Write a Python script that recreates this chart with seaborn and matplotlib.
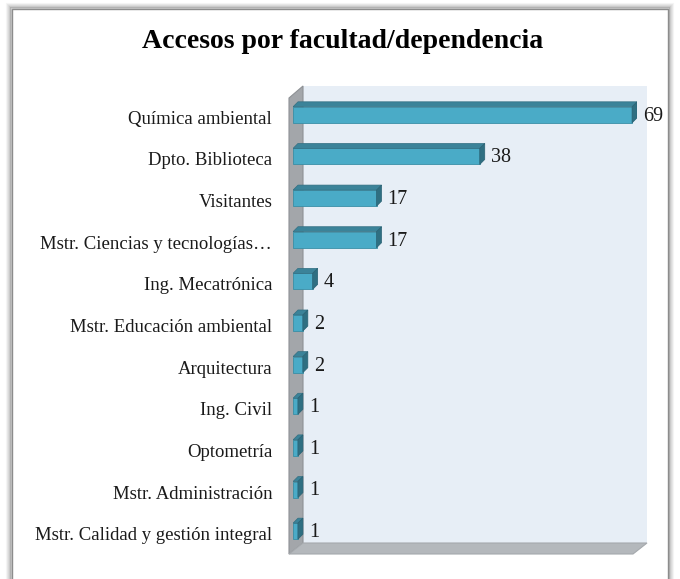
import matplotlib
matplotlib.use("Agg")
import matplotlib.pyplot as plt
import matplotlib.transforms as mtrans
import seaborn as sns
import pandas as pd
from matplotlib.patches import Polygon, Rectangle

categorias = ["Química ambiental", "Dpto. Biblioteca", "Visitantes",
              "Mstr. Ciencias y tecnologías…", "Ing. Mecatrónica",
              "Mstr. Educación ambiental", "Arquitectura", "Ing. Civil",
              "Optometría", "Mstr. Administración",
              "Mstr. Calidad y gestión integral"]
accesos = [69, 38, 17, 17, 4, 2, 2, 1, 1, 1, 1]
titulo = "Accesos por facultad/dependencia"

df = pd.DataFrame({"cat": categorias, "n": accesos})

W, H = 680, 579
sns.set_theme(style="white")
plt.rcParams["font.family"] = ["Liberation Serif", "DejaVu Serif"]

fig = plt.figure(figsize=(W / 100, H / 100), dpi=100)

def fp(x, y):
    # pixel -> figure fraction
    return (x / W, 1 - y / H)

# outer frame with soft shadow
for i, a in enumerate([0.05, 0.08, 0.12, 0.18, 0.3]):
    o = 5 - i
    x0, y0 = fp(12 - o, 9 - o)
    x1, y1 = fp(668 + o, 600)
    fig.patches.append(Rectangle((x0, y1), x1 - x0, y0 - y1, transform=fig.transFigure,
                                 facecolor="none", edgecolor=(0.3, 0.3, 0.3, a), lw=1.5))
x0, y0 = fp(12, 9)
x1, y1 = fp(668, 600)
fig.patches.append(Rectangle((x0, y1), x1 - x0, y0 - y1, transform=fig.transFigure,
                             facecolor="white", edgecolor="#8c8c8c", lw=1))

# 3d walls (pixel coords)
back = [fp(303, 86), fp(647, 86), fp(647, 543), fp(303, 543)]
side = [fp(289, 98), fp(303, 86), fp(303, 543), fp(289, 554)]
floor = [fp(289, 554), fp(633, 554), fp(647, 543), fp(303, 543)]
fig.patches.append(Polygon(back, closed=True, transform=fig.transFigure,
                           facecolor="#e7eef6", edgecolor="none"))
fig.patches.append(Polygon(side, closed=True, transform=fig.transFigure,
                           facecolor="#a3a6aa", edgecolor="#8e9195", lw=0.8))
fig.patches.append(Polygon(floor, closed=True, transform=fig.transFigure,
                           facecolor="#b4b8bc", edgecolor="#a5a9ad", lw=0.8))

ax = fig.add_axes([293 / W, 1 - 552 / H, (637 - 293) / W, (552 - 94) / H])
ax.set_zorder(5)
ax.patch.set_alpha(0)
sns.barplot(data=df, y="cat", x="n", orient="h", color="#4aabc7", width=0.385,
            saturation=1, edgecolor="#3a8ea6", linewidth=0.6, ax=ax)
ax.set_xlim(0, 70)
ax.set_ylim(len(categorias) - 0.5, -0.5)
for s in ax.spines.values():
    s.set_visible(False)
ax.set_xticks([])
ax.set_xlabel("")
ax.set_ylabel("")
ax.tick_params(axis="y", length=0, pad=15, labelsize=13.5, labelcolor="#1a1a1a")
shift = mtrans.ScaledTranslation(0, -2.5 / 100, fig.dpi_scale_trans)
for lab in ax.get_yticklabels():
    lab.set_transform(lab.get_transform() + shift)

# 3d faces of each bar
inv = ax.transData.inverted()
dx, dy = 5, 5
for p, v in zip(ax.patches, accesos):
    x, y, w, h = p.get_x(), p.get_y(), p.get_width(), p.get_height()
    X0, Ytop = ax.transData.transform((x, y))
    X1, Ybot = ax.transData.transform((x + w, y + h))
    top = [(X0, Ytop), (X1, Ytop), (X1 + dx, Ytop + dy), (X0 + dx, Ytop + dy)]
    rside = [(X1, Ytop), (X1 + dx, Ytop + dy), (X1 + dx, Ybot + dy), (X1, Ybot)]
    ax.add_patch(Polygon([inv.transform(q) for q in top], closed=True,
                         facecolor="#3b8399", edgecolor="#336f82", lw=0.5))
    ax.add_patch(Polygon([inv.transform(q) for q in rside], closed=True,
                         facecolor="#2f6f82", edgecolor="#2a6274", lw=0.5))
    ax.annotate(str(v), (x + w, y + h / 2), xytext=(8, -1), textcoords="offset points",
                va="center", ha="left", fontsize=14.5, color="#1a1a1a")

fig.text(343 / W, 1 - 42 / H, titulo, ha="center", va="center",
         fontsize=20, fontweight="bold", color="black", zorder=6)

fig.savefig("out.png", dpi=100)
